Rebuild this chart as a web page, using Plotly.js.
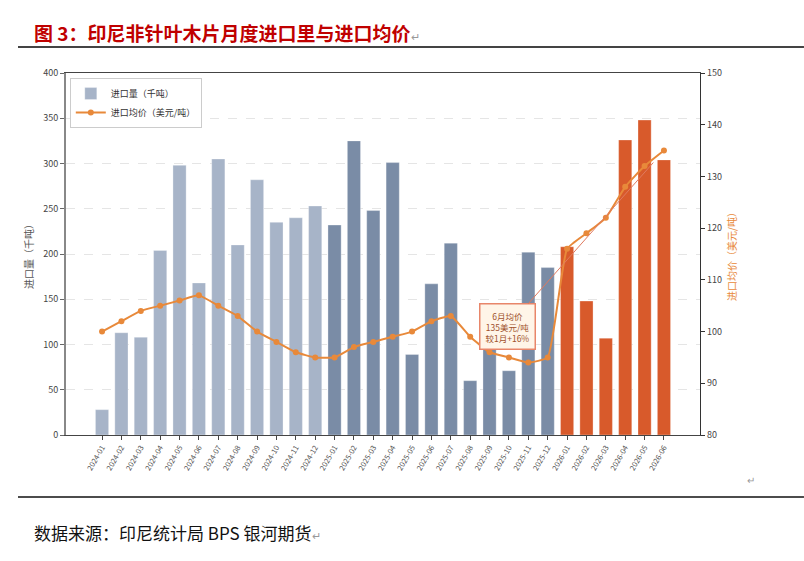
<!DOCTYPE html>
<html>
<head>
<meta charset="utf-8">
<script src="https://cdn.plot.ly/plotly-3.0.1.min.js"></script>
<style>
  html, body { margin: 0; padding: 0; background: #fff; }
  #chart { width: 804px; height: 561px; }
</style>
</head>
<body>
<div id="chart"></div>
<script>
// months on the x axis
var months = [
  '2024-01', '2024-02', '2024-03', '2024-04', '2024-05', '2024-06',
  '2024-07', '2024-08', '2024-09', '2024-10', '2024-11', '2024-12',
  '2025-01', '2025-02', '2025-03', '2025-04', '2025-05', '2025-06',
  '2025-07', '2025-08', '2025-09', '2025-10', '2025-11', '2025-12',
  '2026-01', '2026-02', '2026-03', '2026-04', '2026-05', '2026-06'
];

// import volume, thousand tonnes
var volume = [
  28, 113, 108, 204, 298, 168, 305, 210, 282, 235, 240, 253,
  232, 325, 248, 301, 89, 167, 212, 60, 98, 71, 202, 185,
  208, 148, 107, 326, 348, 304
];

// average import price, USD / tonne
var price = [
  100, 102, 104, 105, 106, 107, 105, 103, 100, 98, 96, 95,
  95, 97, 98, 99, 100, 102, 103, 99, 96, 95, 94, 95,
  116, 119, 122, 128, 132, 135
];

var font = '"Noto Sans CJK SC", "Noto Sans", sans-serif';

// one colour per year
var barColors = months.map(function (m) {
  if (m.indexOf('2024') === 0) return '#a7b4c8';
  if (m.indexOf('2025') === 0) return '#7a8ca6';
  return '#d85a2b';
});

var bars = {
  type: 'bar',
  name: '进口量（千吨）',
  x: months,
  y: volume,
  width: 0.68,
  marker: { color: barColors, line: { color: 'rgba(255,255,255,0.6)', width: 0.5 } },
  hoverinfo: 'x+y'
};

var line = {
  type: 'scatter',
  mode: 'lines+markers',
  name: '进口均价（美元/吨）',
  x: months,
  y: price,
  yaxis: 'y2',
  line: { color: '#e8893a', width: 2, shape: 'spline', smoothing: 0.4 },
  marker: { color: '#e8893a', size: 6 }
};

// plot box: x 66..700, y 73..435 in pixels
var layout = {
  width: 804,
  height: 561,
  margin: { l: 66, r: 104, t: 73, b: 126 },
  paper_bgcolor: '#fff',
  plot_bgcolor: '#fff',
  font: { family: font, size: 9, color: '#333' },
  bargap: 0.3,
  showlegend: true,
  legend: {
    x: 0.006, y: 0.986, xanchor: 'left', yanchor: 'top',
    bgcolor: '#fff', bordercolor: '#ccc', borderwidth: 1,
    font: { size: 9, color: '#333' },
    tracegroupgap: 2
  },
  xaxis: {
    type: 'category',
    range: [-1.86, 30.86],
    tickangle: -60,
    tickfont: { size: 7.5, color: '#555' },
    ticks: 'outside', ticklen: 4, tickcolor: '#444',
    showline: true, linecolor: '#444', linewidth: 1.2, mirror: true,
    showgrid: false
  },
  yaxis: {
    range: [0, 400],
    dtick: 50,
    tickfont: { size: 9, color: '#444' },
    ticks: 'outside', ticklen: 4, tickcolor: '#666',
    showline: true, linecolor: '#888', linewidth: 2,
    showgrid: true, gridcolor: '#dedede', griddash: 'dash', gridwidth: 0.8,
    zeroline: false,
    title: { text: '进口量（千吨）', font: { size: 10, color: '#555' }, standoff: 8 }
  },
  yaxis2: {
    overlaying: 'y',
    side: 'right',
    range: [80, 150],
    dtick: 10,
    tickfont: { size: 9, color: '#444' },
    ticks: 'outside', ticklen: 4, tickcolor: '#333',
    showline: true, linecolor: '#333', linewidth: 1.2,
    showgrid: false, zeroline: false,
    title: { text: '进口均价（美元/吨）', font: { size: 10, color: '#e8893a' }, standoff: 8 }
  },
  shapes: [
    { type: 'line', xref: 'paper', yref: 'paper', x0: -0.0757, x1: 1.164, y0: 1.0718, y1: 1.0718,
      line: { color: '#444', width: 2 } },
    { type: 'line', xref: 'paper', yref: 'paper', x0: -0.0757, x1: 1.164, y0: -0.1713, y1: -0.1713,
      line: { color: '#111', width: 1.5 } }
  ],
  annotations: [
    { xref: 'paper', yref: 'paper', x: -0.0536, y: 1.113, xanchor: 'left', yanchor: 'middle',
      showarrow: false, text: '<b>图 3：印尼非针叶木片月度进口里与进口均价</b><span style="color:#999;font-size:11px">↵</span>',
      font: { family: font, size: 19, color: '#c00000' } },
    { xref: 'paper', yref: 'paper', x: -0.0536, y: -0.268, xanchor: 'left', yanchor: 'middle',
      showarrow: false, text: '数据来源：印尼统计局 BPS 银河期货<span style="color:#999;font-size:11px">↵</span>',
      font: { family: font, size: 17, color: '#111' } },
    { xref: 'paper', yref: 'paper', x: 1.071, y: -0.124, xanchor: 'left', yanchor: 'middle',
      showarrow: false, text: '↵', font: { size: 10, color: '#999' } },
    { xref: 'x', yref: 'y2', x: '2026-06', y: 135,
      text: '6月均价<br>135美元/吨<br>较1月+16%',
      showarrow: true, arrowhead: 0, arrowwidth: 1, arrowcolor: '#e07a5f',
      ax: -156, ay: 176, standoff: 16,
      bgcolor: '#fff5e8', bordercolor: '#e8866a', borderwidth: 1.5, borderpad: 5,
      font: { size: 8.5, color: '#a0522d' } }
  ]
};

Plotly.newPlot('chart', [bars, line], layout, { displayModeBar: false, staticPlot: true });
</script>
</body>
</html>
